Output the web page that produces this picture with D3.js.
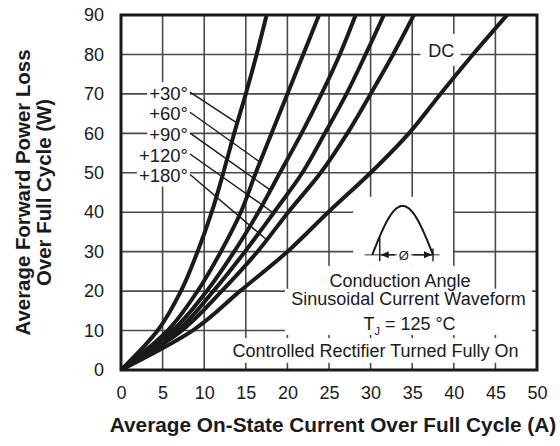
<!DOCTYPE html>
<html><head><meta charset="utf-8">
<script src="https://cdn.jsdelivr.net/npm/d3@7"></script>
<style>
body{margin:0;background:#fff}
svg{display:block}
text{font-family:"Liberation Sans",Arial,Helvetica,sans-serif;fill:#1a1a1a}
</style>
</head><body>
<svg id="chart" width="560" height="446"></svg>
<script>
// ---- data ----
const powerW     = [0, 10, 20, 30, 40, 50, 60, 70, 80, 90];
const current30  = [0, 4.4, 7.2, 9.2, 10.9, 12.3, 13.6, 15.0, 16.3, 17.5];
const current60  = [0, 5.6, 9.2, 12.0, 14.4, 16.2, 18.1, 20.0, 21.9, 23.8];
const current90  = [0, 6.2, 10.3, 13.6, 16.5, 19.1, 21.7, 24.1, 26.3, 28.2];
const current120 = [0, 6.8, 11.1, 14.9, 18.4, 21.8, 24.5, 27.1, 29.4, 31.6];
const current180 = [0, 7.3, 12.1, 16.4, 20.1, 24.0, 27.2, 30.0, 32.7, 35.2];
const currentDC  = [0, 8.6, 14.3, 20.0, 24.9, 30.0, 34.6, 38.4, 42.3, 46.4];
const seriesNames = ["+30°", "+60°", "+90°", "+120°", "+180°", "DC"];
const xTicks = [0, 5, 10, 15, 20, 25, 30, 35, 40, 45, 50];
const yTicks = [0, 10, 20, 30, 40, 50, 60, 70, 80, 90];
const angleLabels = ["+30°", "+60°", "+90°", "+120°", "+180°"];
const labelPowerW  = [70.2, 65.1, 59.8, 54.5, 49.3];
const leaderPowerW = [62.6, 52.7, 45.6, 39.8, 33.0];
const xTitle = "Average On-State Current Over Full Cycle (A)";
const yTitle = ["Average Forward Power Loss", "Over Full Cycle (W)"];

const currents = [current30, current60, current90, current120, current180, currentDC];
const series = seriesNames.map((n, k) => ({name: n, pts: powerW.map((p, j) => ({p, i: currents[k][j]}))}));

// ---- layout ----
const W = 560, H = 446;
const m = {left: 121, top: 15, right: 23, bottom: 76};
const x = d3.scaleLinear().domain([0, 50]).range([m.left, W - m.right]);
const y = d3.scaleLinear().domain([0, 90]).range([H - m.bottom, m.top]);
const ink = "#1a1a1a", gridC = "#4a4a4a";
const FONT = '"Liberation Sans",Arial,Helvetica,sans-serif';

const svg = d3.select("#chart");
svg.append("rect").attr("width", W).attr("height", H).attr("fill", "#fff");

// grid
const g = svg.append("g");
g.selectAll("line.vx").data(xTicks.slice(1, -1)).join("line")
  .attr("x1", d => x(d)).attr("x2", d => x(d)).attr("y1", y(0)).attr("y2", y(90))
  .attr("stroke", gridC).attr("stroke-width", 1.6);
g.selectAll("line.hy").data(yTicks.slice(1, -1)).join("line")
  .attr("y1", d => y(d)).attr("y2", d => y(d)).attr("x1", x(0)).attr("x2", x(50))
  .attr("stroke", gridC).attr("stroke-width", 1.6);

// white boxes behind annotations (data coordinates)
function box(i0, i1, p0, p1) {
  svg.append("rect").attr("x", x(i0)).attr("y", y(p1))
    .attr("width", x(i1) - x(i0)).attr("height", y(p0) - y(p1)).attr("fill", "#fff");
}
box(27.9, 39.9, 26.4, 43.9);  // waveform inset
box(24.2, 43.0, 20.6, 26.4);  // Conduction Angle
box(19.7, 49.4, 8.9, 20.6);   // Sinusoidal / TJ
box(12.5, 49.4, 1.8, 8.1);    // Controlled ...
box(36.0, 40.8, 77.1, 85.2);  // DC

// clip
svg.append("clipPath").attr("id", "clip").append("rect")
  .attr("x", x(0)).attr("y", y(90)).attr("width", x(50) - x(0)).attr("height", y(0) - y(90));

// curves
const line = d3.line().x(d => x(d.i)).y(d => y(d.p)).curve(d3.curveMonotoneY);
svg.append("g").attr("clip-path", "url(#clip)").selectAll("path").data(series).join("path")
  .attr("d", d => line(d.pts)).attr("fill", "none").attr("stroke", ink)
  .attr("stroke-width", 4).attr("stroke-linejoin", "round");

// border
svg.append("rect").attr("x", x(0)).attr("y", y(90)).attr("width", x(50) - x(0)).attr("height", y(0) - y(90))
  .attr("fill", "none").attr("stroke", ink).attr("stroke-width", 3);

// axes
const fs = 18;
const ax = svg.append("g").attr("transform", `translate(0,${y(0)})`)
  .call(d3.axisBottom(x).tickValues(xTicks).tickSize(0).tickPadding(16));
const ay = svg.append("g").attr("transform", `translate(${x(0)},0)`)
  .call(d3.axisLeft(y).tickValues(yTicks).tickSize(0).tickPadding(17));
[ax, ay].forEach(a => {
  a.select(".domain").remove();
  a.selectAll("text").attr("font-size", fs).attr("fill", ink).style("font-family", FONT);
});

// titles
svg.append("text").attr("x", 333).attr("y", 432).attr("text-anchor", "middle")
  .attr("font-size", 20.8).attr("font-weight", "bold").text(xTitle);
const yt = svg.append("text").attr("transform", `translate(0,${(y(0) + y(90)) / 2}) rotate(-90)`)
  .attr("text-anchor", "middle").attr("font-size", 20.4).attr("font-weight", "bold");
yt.append("tspan").attr("x", 0).attr("y", 30).text(yTitle[0]);
yt.append("tspan").attr("x", 0).attr("y", 51).text(yTitle[1]);

// angle labels with leader lines
const interp = series.slice(0, 5).map(s => d3.scaleLinear().domain(powerW).range(s.pts.map(d => d.i)));
const labG = svg.append("g");
angleLabels.forEach((lab, k) => {
  const t = labG.append("text").attr("x", x(8.05)).attr("y", y(labelPowerW[k])).attr("dy", "0.36em")
    .attr("text-anchor", "end").attr("font-size", 18.5).text(lab);
  const bb = t.node().getBBox();
  labG.insert("rect", "text").attr("x", bb.x - 2).attr("y", y(labelPowerW[k]) - 11)
    .attr("width", bb.width + 4).attr("height", 22).attr("fill", "#fff");
  const tp = leaderPowerW[k];
  labG.append("line").attr("x1", x(8.3)).attr("y1", y(labelPowerW[k]) - 1)
    .attr("x2", x(interp[k](tp))).attr("y2", y(tp)).attr("stroke", ink).attr("stroke-width", 1.4);
});

// DC label
svg.append("text").attr("x", x(38.5)).attr("y", y(81.1)).attr("dy", "0.36em")
  .attr("text-anchor", "middle").attr("font-size", fs).text("DC");

// waveform inset
const wI0 = 30.2, wI1 = 37.5, wBase = 29.2, wPeak = 41.6;
const wave = d3.range(0, 41).map(k => {
  const f = k / 40;
  return [x(wI0 + f * (wI1 - wI0)), y(wBase + Math.sin(Math.PI * f) * (wPeak - wBase))];
});
svg.append("line").attr("x1", x(29.3)).attr("x2", x(38.3)).attr("y1", y(wBase)).attr("y2", y(wBase))
  .attr("stroke", "#777").attr("stroke-width", 1.6);
svg.append("path").attr("d", d3.line()(wave)).attr("fill", "none").attr("stroke", ink).attr("stroke-width", 2);
svg.append("line").attr("x1", x(31.1)).attr("x2", x(31.1)).attr("y1", y(27.6)).attr("y2", y(33.7))
  .attr("stroke", ink).attr("stroke-width", 1.4);
svg.append("line").attr("x1", x(37.5)).attr("x2", x(37.5)).attr("y1", y(27.6)).attr("y2", y(30.8))
  .attr("stroke", ink).attr("stroke-width", 1.4);
const phiX = x(34.0), by = y(wBase);
svg.append("rect").attr("x", phiX - 7).attr("y", by - 8).attr("width", 14).attr("height", 16).attr("fill", "#fff");
svg.append("text").attr("x", phiX).attr("y", by).attr("dy", "0.36em").attr("text-anchor", "middle")
  .attr("font-size", 13).attr("fill", "#444").text("Ø");
function arrowHead(tipX, dir) {
  svg.append("path").attr("d", `M${tipX},${by} L${tipX - dir * 8},${by - 3.5} L${tipX - dir * 8},${by + 3.5} Z`)
    .attr("fill", ink);
}
svg.append("line").attr("x1", phiX - 9).attr("x2", x(31.1) + 1).attr("y1", by).attr("y2", by).attr("stroke", ink).attr("stroke-width", 1.4);
svg.append("line").attr("x1", phiX + 9).attr("x2", x(37.5) - 1).attr("y1", by).attr("y2", by).attr("stroke", ink).attr("stroke-width", 1.4);
arrowHead(x(31.1) + 1, -1);
arrowHead(x(37.5) - 1, 1);

// note text
svg.append("text").attr("x", 400).attr("y", y(22.7)).attr("dy", "0.36em").attr("text-anchor", "middle")
  .attr("font-size", fs).text("Conduction Angle");
svg.append("text").attr("x", 408.5).attr("y", y(18.0)).attr("dy", "0.36em").attr("text-anchor", "middle")
  .attr("font-size", fs).text("Sinusoidal Current Waveform");
const tj = svg.append("text").attr("x", 409.5).attr("y", y(11.7)).attr("dy", "0.36em").attr("text-anchor", "middle")
  .attr("font-size", fs);
tj.append("tspan").text("T");
tj.append("tspan").attr("font-size", 11).attr("dy", "0.45em").text("J");
tj.append("tspan").attr("dy", "-0.3em").text(" = 125 °C");
svg.append("text").attr("x", 375.5).attr("y", y(5.0)).attr("dy", "0.36em").attr("text-anchor", "middle")
  .attr("font-size", fs).text("Controlled Rectifier Turned Fully On");
</script>
</body></html>
